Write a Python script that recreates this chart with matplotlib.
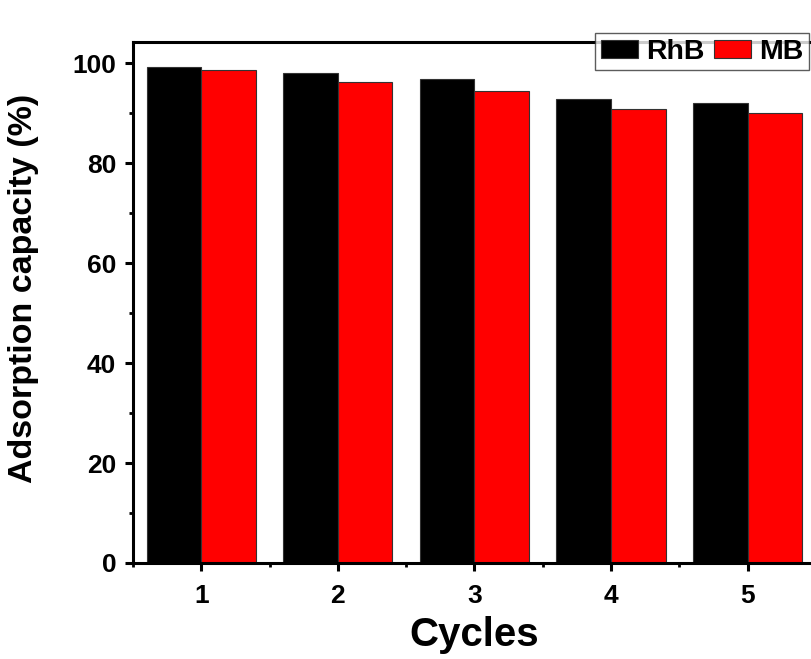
import numpy as np
import matplotlib.pyplot as plt
from matplotlib.ticker import MultipleLocator

plt.rcParams['font.family'] = ['Liberation Sans', 'DejaVu Sans']
plt.rcParams['font.weight'] = 'bold'

cycles = [1, 2, 3, 4, 5]
rhb = [99.2, 98.1, 96.8, 92.9, 92.1]
mb = [98.6, 96.3, 94.4, 90.9, 90.1]

fig = plt.figure(figsize=(8.11, 6.59), dpi=100)
ax = fig.add_axes([0.164, 0.1457, 0.842, 0.7906])

x = np.array(cycles)
w = 0.4
ax.bar(x - w / 2, rhb, w, color='black', edgecolor='#333333', linewidth=0.8, label='RhB')
ax.bar(x + w / 2, mb, w, color='red', edgecolor='#333333', linewidth=0.8, label='MB')

ax.set_xlim(0.5, 5.5)
ax.set_ylim(0, 104.3)
ax.set_xticks(cycles)
ax.xaxis.set_minor_locator(MultipleLocator(0.5))
ax.yaxis.set_major_locator(MultipleLocator(20))
ax.yaxis.set_minor_locator(MultipleLocator(10))

for s in ax.spines.values():
    s.set_linewidth(2.2)
ax.tick_params(which='major', direction='out', length=6, width=2.2, labelsize=19)
ax.tick_params(axis='x', which='major', pad=9)
ax.tick_params(axis='y', which='major', pad=6)
ax.tick_params(which='minor', direction='out', length=3, width=2)
ax.tick_params(top=False, right=False, which='both')

ax.set_xlabel('Cycles', fontsize=29, fontweight='bold', labelpad=6)
ax.set_ylabel('Adsorption capacity (%)', fontsize=24.5, fontweight='bold')
ax.yaxis.set_label_coords(-0.138, 0.527)

leg = ax.legend(loc='upper right', bbox_to_anchor=(809 / 811, 1 - 33 / 659),
                bbox_transform=fig.transFigure, ncol=2, fontsize=20.5,
                frameon=True, fancybox=False, edgecolor='#333333',
                handlelength=1.3, handleheight=0.6, handletextpad=0.3,
                columnspacing=0.3, borderpad=0.2, borderaxespad=0)
leg.get_frame().set_linewidth(1.0)

fig.savefig('out.png', dpi=100)
